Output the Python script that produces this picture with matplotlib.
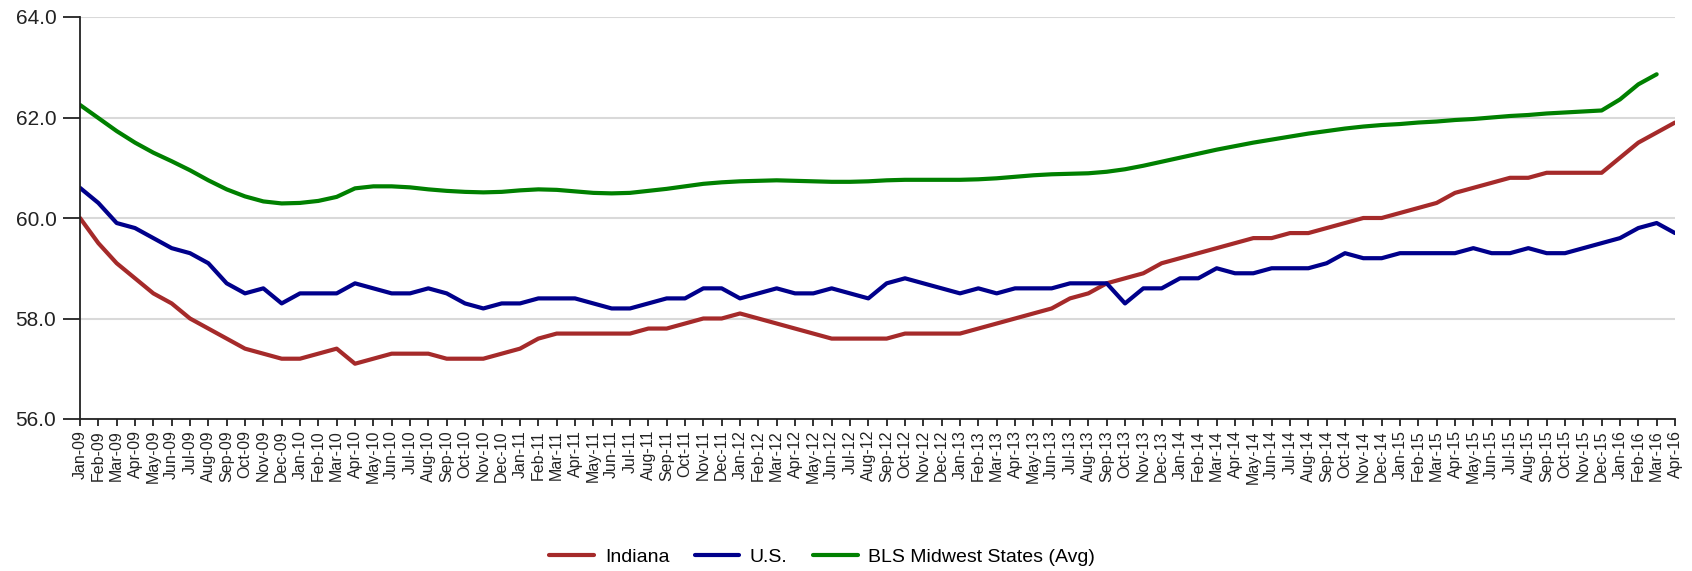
import numpy as np
import matplotlib
matplotlib.use("Agg")
import matplotlib.pyplot as plt

plt.rcParams['font.family'] = ['Liberation Sans', 'DejaVu Sans']

month_names = ["Jan", "Feb", "Mar", "Apr", "May", "Jun",
               "Jul", "Aug", "Sep", "Oct", "Nov", "Dec"]
years = ["09", "10", "11", "12", "13", "14", "15", "16"]
tick_labels = [f"{m}-{y}" for y in years for m in month_names][:88]

indiana = [
    60.0, 59.5, 59.1, 58.8, 58.5, 58.3, 58.0, 57.8, 57.6, 57.4, 57.3, 57.2,
    57.2, 57.3, 57.4, 57.1, 57.2, 57.3, 57.3, 57.3, 57.2, 57.2, 57.2, 57.3,
    57.4, 57.6, 57.7, 57.7, 57.7, 57.7, 57.7, 57.8, 57.8, 57.9, 58.0, 58.0,
    58.1, 58.0, 57.9, 57.8, 57.7, 57.6, 57.6, 57.6, 57.6, 57.7, 57.7, 57.7,
    57.7, 57.8, 57.9, 58.0, 58.1, 58.2, 58.4, 58.5, 58.7, 58.8, 58.9, 59.1,
    59.2, 59.3, 59.4, 59.5, 59.6, 59.6, 59.7, 59.7, 59.8, 59.9, 60.0, 60.0,
    60.1, 60.2, 60.3, 60.5, 60.6, 60.7, 60.8, 60.8, 60.9, 60.9, 60.9, 60.9,
    61.2, 61.5, 61.7, 61.9,
]

us = [
    60.6, 60.3, 59.9, 59.8, 59.6, 59.4, 59.3, 59.1, 58.7, 58.5, 58.6, 58.3,
    58.5, 58.5, 58.5, 58.7, 58.6, 58.5, 58.5, 58.6, 58.5, 58.3, 58.2, 58.3,
    58.3, 58.4, 58.4, 58.4, 58.3, 58.2, 58.2, 58.3, 58.4, 58.4, 58.6, 58.6,
    58.4, 58.5, 58.6, 58.5, 58.5, 58.6, 58.5, 58.4, 58.7, 58.8, 58.7, 58.6,
    58.5, 58.6, 58.5, 58.6, 58.6, 58.6, 58.7, 58.7, 58.7, 58.3, 58.6, 58.6,
    58.8, 58.8, 59.0, 58.9, 58.9, 59.0, 59.0, 59.0, 59.1, 59.3, 59.2, 59.2,
    59.3, 59.3, 59.3, 59.3, 59.4, 59.3, 59.3, 59.4, 59.3, 59.3, 59.4, 59.5,
    59.6, 59.8, 59.9, 59.7,
]

midwest = [
    62.25, 61.99, 61.73, 61.50, 61.30, 61.13, 60.95, 60.75, 60.57, 60.43, 60.33, 60.29,
    60.30, 60.34, 60.42, 60.59, 60.63, 60.63, 60.61, 60.57, 60.54, 60.52, 60.51, 60.52,
    60.55, 60.57, 60.56, 60.53, 60.50, 60.49, 60.50, 60.54, 60.58, 60.63, 60.68, 60.71,
    60.73, 60.74, 60.75, 60.74, 60.73, 60.72, 60.72, 60.73, 60.75, 60.76, 60.76, 60.76,
    60.76, 60.77, 60.79, 60.82, 60.85, 60.87, 60.88, 60.89, 60.92, 60.97, 61.04, 61.12,
    61.20, 61.28, 61.36, 61.43, 61.50, 61.56, 61.62, 61.68, 61.73, 61.78, 61.82, 61.85,
    61.87, 61.90, 61.92, 61.95, 61.97, 62.00, 62.03, 62.05, 62.08, 62.10, 62.12, 62.14,
    62.36, 62.66, 62.86, np.nan,
]

series_names = ["Indiana", "U.S.", "BLS Midwest States (Avg)"]
series_colors = ["#a52a2a", "#00008b", "#008000"]
y_ticks = [56.0, 58.0, 60.0, 62.0, 64.0]

fig = plt.figure(figsize=(16.92, 5.71), dpi=100)
ax = fig.add_axes([80 / 1692, 1 - 419 / 571, (1675 - 80) / 1692, (419 - 17) / 571])

x = np.arange(len(tick_labels))
for vals, name, col in zip([indiana, us, midwest], series_names, series_colors):
    ax.plot(x, vals, color=col, lw=3.0, label=name, solid_capstyle='round',
            solid_joinstyle='round')

ax.set_xlim(0, len(tick_labels) - 1)
ax.set_ylim(56, 64)
ax.set_yticks(y_ticks)
ax.set_yticklabels([f"{v:.1f}" for v in y_ticks], fontsize=15, color="#222222")
ax.set_xticks(x)
ax.set_xticklabels(tick_labels, rotation=90, fontsize=11.5, color="#222222")

ax.grid(axis='y', color='#d9d9d9', lw=1.5)
ax.set_axisbelow(True)
for s in ['top', 'right']:
    ax.spines[s].set_visible(False)
for s in ['left', 'bottom']:
    ax.spines[s].set_color('#222222')
    ax.spines[s].set_linewidth(1.3)
ax.tick_params(axis='y', length=12, width=1.3, color='#222222', pad=5)
ax.tick_params(axis='x', length=5, width=1.3, color='#222222', pad=3)

fig.legend(loc='center', bbox_to_anchor=(0.486, 0.025), ncol=3, frameon=False,
           fontsize=14, handlelength=2.3, handletextpad=0.55, columnspacing=1.3)

fig.savefig("out.png", dpi=100)
